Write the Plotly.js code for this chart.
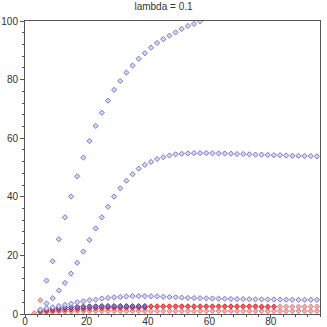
<!DOCTYPE html>
<html>
<head>
<meta charset="utf-8">
<script src="https://cdn.plot.ly/plotly-3.0.1.min.js"></script>
<style>
  html, body { margin: 0; padding: 0; background: #fff; }
  #plot { width: 327px; height: 327px; }
</style>
</head>
<body>
<div id="plot"></div>
<script>
const xsA = [7, 9, 11, 13, 15, 17, 19, 21, 23, 25, 27, 29, 31, 33, 35, 37, 39, 41, 43, 45, 47, 49, 51, 53, 55, 57];
const ysA = [11.4, 18, 25.5, 33, 40.1, 47, 53.4, 59, 64.2, 68.7, 72.8, 76.5, 79.5, 82.4, 84.8, 87.1, 89, 90.9, 92.5, 93.8, 95, 96.1, 97.3, 98.3, 99, 99.9];

const xsB = [7, 9, 11, 13, 15, 17, 19, 21, 23, 25, 27, 29, 31, 33, 35, 37, 39, 41, 43, 45, 47, 49, 51, 53, 55, 57, 59, 61, 63, 65, 67, 69, 71, 73, 75, 77, 79, 81, 83, 85, 87, 89, 91, 93, 95];
const ysB = [3.6, 5.4, 8, 10.6, 13.8, 17.5, 21.3, 25.3, 29.2, 33, 36.6, 40.1, 42.9, 45.5, 47.7, 49.6, 50.9, 51.9, 52.9, 53.5, 54.1, 54.5, 54.7, 54.8, 54.9, 54.9, 54.9, 54.85, 54.8, 54.8, 54.7, 54.6, 54.6, 54.5, 54.4, 54.4, 54.3, 54.2, 54.2, 54.1, 54, 54, 53.9, 53.9, 53.8];

const xsC = [5, 7, 9, 11, 13, 15, 17, 19, 21, 23, 25, 27, 29, 31, 33, 35, 37, 39, 41, 43, 45, 47, 49, 51, 53, 55, 57, 59, 61, 63, 65, 67, 69, 71, 73, 75, 77, 79, 81, 83, 85, 87, 89, 91, 93, 95];
const ysC = [1.5, 1.9, 2.3, 2.7, 3.1, 3.5, 4, 4.3, 4.7, 4.9, 5.3, 5.5, 5.7, 5.8, 6, 6.1, 6.1, 6.1, 6.05, 6, 5.9, 5.8, 5.7, 5.6, 5.5, 5.45, 5.4, 5.35, 5.3, 5.25, 5.2, 5.15, 5.1, 5.1, 5.05, 5, 5, 4.95, 4.95, 4.9, 4.9, 4.9, 4.85, 4.85, 4.85, 4.85];

const xsD = [5, 7, 9, 11, 13, 15, 17, 19, 21, 23, 25, 27, 29, 31, 33, 35, 37, 39];
const ysD = [1.3, 1.6, 1.8, 2, 2.2, 2.3, 2.4, 2.5, 2.6, 2.6, 2.7, 2.7, 2.7, 2.7, 2.7, 2.7, 2.7, 2.7];

const xsG = [83, 85, 87, 89, 91, 93, 95];
const ysG = [2.5, 2.5, 2.5, 2.5, 2.5, 2.5, 2.5];

const xsE = [5, 7, 9, 11, 13, 15, 17, 19, 21, 23, 25, 27, 29, 31, 33, 35, 37, 39, 41, 43, 45, 47, 49, 51, 53, 55, 57, 59, 61, 63, 65, 67, 69, 71, 73, 75, 77, 79, 81];
const ysE = [0.8, 1, 1.2, 1.4, 1.5, 1.6, 1.7, 1.8, 1.9, 2, 2, 2.1, 2.1, 2.1, 2.2, 2.2, 2.2, 2.2, 2.6, 2.6, 2.6, 2.6, 2.6, 2.6, 2.6, 2.6, 2.6, 2.6, 2.6, 2.6, 2.6, 2.6, 2.6, 2.6, 2.6, 2.6, 2.5, 2.5, 2.5];

const xsF = [3, 5, 7, 9, 11, 13, 15, 17, 19, 21, 23, 25, 27, 29, 31, 33, 35, 37, 39, 41, 43, 45, 47, 49, 51, 53, 55, 57, 59, 61, 63, 65, 67, 69, 71, 73, 75, 77, 79, 81, 83, 85, 87, 89, 91, 93, 95];
const ysF = [0.3, 4.7, 0.6, 0.7, 0.8, 0.9, 0.9, 1, 1, 1, 1, 1, 1, 1, 1, 1, 1, 1, 1, 1, 1, 1, 1, 1, 1, 1, 1, 1, 1, 1, 1, 1, 1, 1, 1, 1, 1, 1, 1, 1, 1, 1, 1, 1, 1, 1, 1];

function pts(x, y, fill, edge) {
    return {
        x: x,
        y: y,
        type: 'scatter',
        mode: 'markers',
        marker: { symbol: 'diamond', size: 4, color: fill, line: { color: edge, width: 1 } },
        hoverinfo: 'x+y'
    };
}

const data = [
    pts(xsF, ysF, '#f0b0b0', '#e08080'),
    pts(xsG, ysG, '#f0b0b0', '#e08080'),
    pts(xsE, ysE, '#f06060', '#e02020'),
    pts(xsD, ysD, '#9070c0', '#52348c'),
    pts(xsC, ysC, '#d4d4f4', '#7878c8'),
    pts(xsB, ysB, '#d4d4f4', '#7878c8'),
    pts(xsA, ysA, '#d4d4f4', '#7878c8')
];

const axisFont = { family: 'Liberation Sans, Arial, sans-serif', size: 10, color: '#333' };

const layout = {
    width: 327,
    height: 327,
    margin: { l: 25, r: 7, t: 21, b: 13 },
    paper_bgcolor: '#fff',
    plot_bgcolor: '#fff',
    showlegend: false,
    title: {
        text: 'lambda = 0.1',
        font: { family: 'Liberation Sans, Arial, sans-serif', size: 10, color: '#333' },
        x: 0.5,
        xanchor: 'center',
        y: 0.99,
        yanchor: 'top'
    },
    xaxis: {
        range: [0, 96],
        dtick: 20,
        showgrid: false,
        zeroline: false,
        showline: true,
        linecolor: '#555',
        linewidth: 1,
        mirror: true,
        ticks: 'outside',
        ticklen: 3,
        tickcolor: '#555',
        tickfont: axisFont,
        ticklabelstandoff: -5,
        minor: { dtick: 4, ticks: 'outside', ticklen: 2, tickcolor: '#555', showgrid: false }
    },
    yaxis: {
        range: [0, 100],
        dtick: 20,
        showgrid: false,
        zeroline: false,
        showline: true,
        linecolor: '#555',
        linewidth: 1,
        mirror: true,
        ticks: 'outside',
        ticklen: 4,
        tickcolor: '#555',
        tickfont: axisFont,
        minor: { dtick: 4, ticks: 'outside', ticklen: 2, tickcolor: '#555', showgrid: false }
    }
};

Plotly.newPlot('plot', data, layout, { displayModeBar: false, staticPlot: true });
</script>
</body>
</html>
